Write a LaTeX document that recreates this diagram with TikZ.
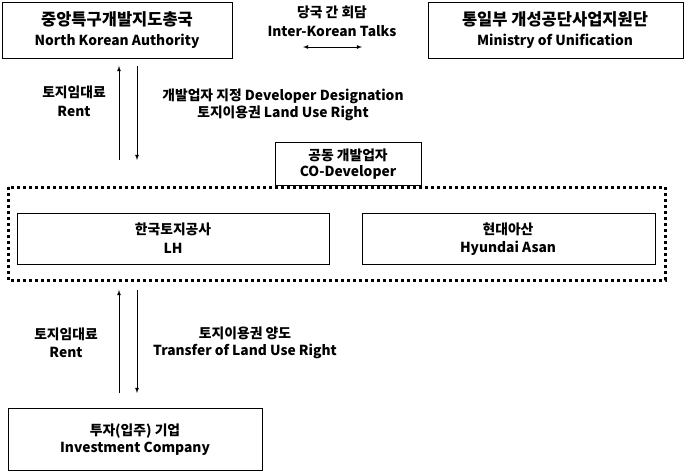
\documentclass[tikz,border=0pt]{standalone}
\usepackage{fontspec}
\setmainfont{Noto Sans CJK KR}
\begin{document}
\begin{tikzpicture}[x=1pt,y=-1pt,
  box/.style={draw,line width=1pt,inner sep=0pt},
  t/.style={font=\fontsize{13.8}{15}\selectfont\bfseries,inner sep=0pt},
  tb/.style={font=\fontsize{16.5}{18}\selectfont\bfseries,inner sep=0pt},
  arr/.style={-latex,line width=0.8pt}]
\useasboundingbox (0,0) rectangle (685,472);
\draw[box] (2,2) rectangle (232,58);
\node[tb] (a1) at (117,19) {중앙특구개발지도총국};
\node[t] (a2) at (117,41) {North Korean Authority};
\draw[box] (428,2) rectangle (683,58);
\node[tb] (b1) at (555,19) {통일부 개성공단사업지원단};
\node[t] (b2) at (555,41) {Ministry of Unification};
\node[t] (m1) at (332,12) {당국 간 회담};
\node[t] (m2) at (332,31) {Inter-Korean Talks};
\coordinate (ml) at (303,47); \coordinate (mr) at (362,47);
\draw[latex-latex,line width=0.8pt] (ml) -- (mr);
\coordinate (u1) at (119,160); \coordinate (u2) at (119,66);
\coordinate (d1) at (137,66); \coordinate (d2) at (137,160);
\draw[arr] (u1) -- (u2); \draw[arr] (d1) -- (d2);
\node[t] (r1) at (74,92) {토지임대료};
\node[t] (r2) at (74,111) {Rent};
\node[t] (g1) at (283,96) {개발업자 지정 Developer Designation};
\node[t] (g2) at (283,113) {토지이용권 Land Use Right};
\draw[box] (275,142) rectangle (421,185);
\node[t] (c1) at (348,155) {공동 개발업자};
\node[t] (c2) at (348,172) {CO-Developer};
\draw[line width=3pt,dash pattern=on 3pt off 3pt] (8,187) rectangle (665,280);
\draw[box] (17,213) rectangle (329,264);
\node[t] (l1) at (173,229) {한국토지공사};
\node[t] (l2) at (173,248) {LH};
\draw[box] (362,213) rectangle (655,264);
\node[t] (h1) at (508,229) {현대아산};
\node[t] (h2) at (508,248) {Hyundai Asan};
\coordinate (u3) at (119,393); \coordinate (u4) at (119,290);
\coordinate (d3) at (137,290); \coordinate (d4) at (137,393);
\draw[arr] (u3) -- (u4); \draw[arr] (d3) -- (d4);
\node[t] (r3) at (66,334) {토지임대료};
\node[t] (r4) at (66,352) {Rent};
\node[t] (s1) at (245,333) {토지이용권 양도};
\node[t] (s2) at (245,351) {Transfer of Land Use Right};
\draw[box] (8,408) rectangle (262,470);
\node[t] (i1) at (135,431) {투자(입주) 기업};
\node[t] (i2) at (135,449) {Investment Company};
\end{tikzpicture}
\end{document}
